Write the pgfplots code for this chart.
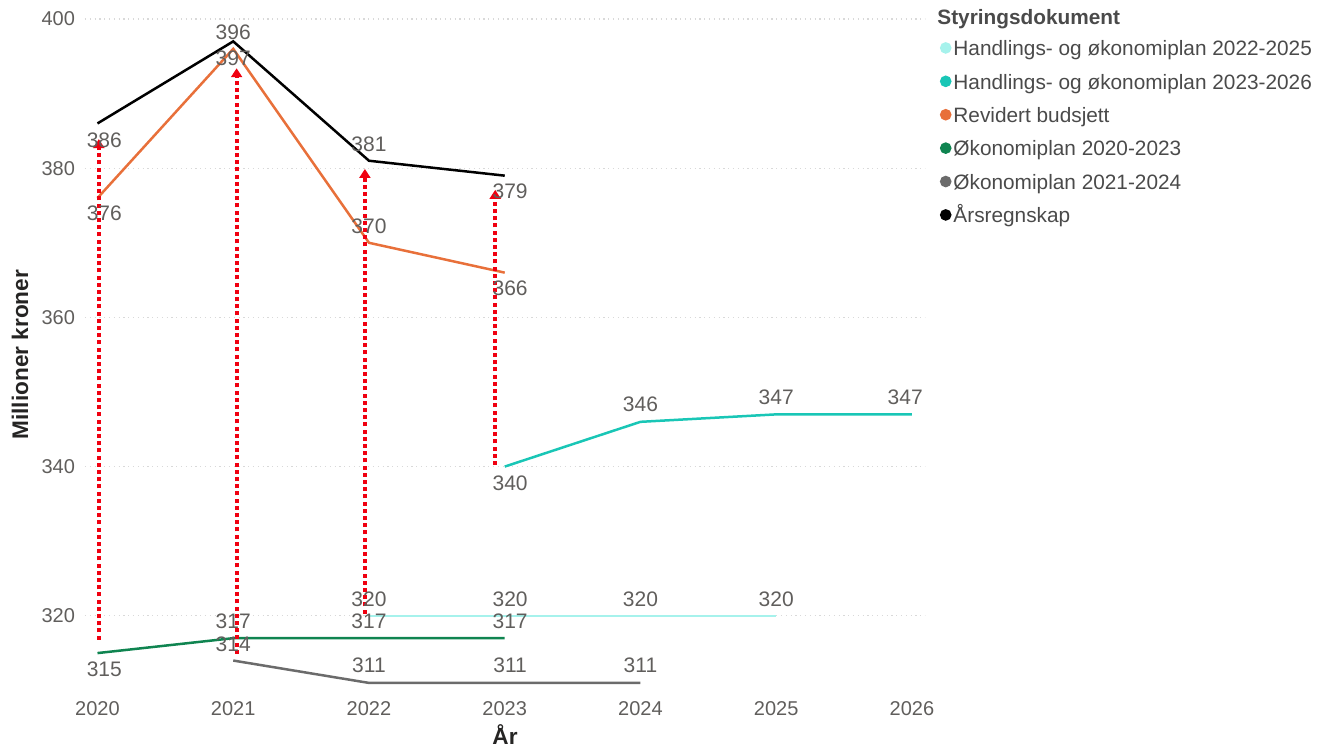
\documentclass[border=0pt]{standalone}
\usepackage{pgfplots}
\pgfplotsset{compat=1.18}
\usepackage{fontspec}
\setmainfont{Liberation Sans}
\usetikzlibrary{arrows.meta}
\definecolor{lblgray}{HTML}{605E5C}
\definecolor{leggray}{HTML}{4A4A4A}
\definecolor{titlegray}{HTML}{252423}
\definecolor{gridgray}{HTML}{D9D9D9}
\definecolor{hcyan}{HTML}{A6F2EC}
\definecolor{hteal}{HTML}{19C6B6}
\definecolor{rorange}{HTML}{E8703A}
\definecolor{ogreen}{HTML}{0F8450}
\definecolor{ogray}{HTML}{6B6B6B}
\definecolor{arrred}{HTML}{F00010}
\begin{document}
\begin{tikzpicture}
\useasboundingbox (0,0) rectangle (665pt,373.5pt);
\begin{axis}[
  at={(42.5pt,28.3pt)}, anchor=south west,
  scale only axis, width=420pt, height=335.7pt,
  xmin=2019.908, xmax=2026.096, ymin=310, ymax=400,
  clip=false,
  xtick={2020,2021,2022,2023,2024,2025,2026},
  ytick={320,340,360,380,400},
  axis line style={draw=none},
  major tick length=0pt,
  ymajorgrids,
  grid style={gridgray, line width=0.6pt, dash pattern=on 0.6pt off 1.8pt},
  /pgf/number format/1000 sep={},
  /pgf/number format/assume math mode=true,
  tick label style={font=\fontsize{10}{12}\selectfont, text=lblgray},
  xticklabel style={yshift=-2pt},
  yticklabel style={xshift=-1.5pt},
  xlabel={\textbf{År}},
  ylabel={\textbf{Millioner kroner}},
  xlabel style={at={(axis description cs:0.5,-0.0656)}, anchor=center, font=\fontsize{11.3}{13}\selectfont, text=titlegray},
  ylabel style={at={(axis description cs:-0.0774,0.5)}, anchor=center, rotate=0, font=\fontsize{11.3}{13}\selectfont, text=titlegray},
  legend style={at={(axis description cs:1.0102,0.9742)}, anchor=north west, draw=none, fill=none,
    font=\fontsize{10.4}{12}\selectfont, text=leggray, row sep=6.7pt, column sep=1pt,
    nodes={inner sep=0pt, text height=7.5pt, text depth=2.5pt}},
  legend cell align=left,
  legend image code/.code={\fill (2.25pt,1.4pt) circle (2.25pt);},
  every axis plot/.append style={line width=1.25pt},
]
\addplot[color=hcyan, mark=none] coordinates {(2022,320) (2023,320) (2024,320) (2025,320)};
\addlegendentry{Handlings- og økonomiplan 2022-2025}
\addplot[color=hteal, mark=none] coordinates {(2023,340) (2024,346) (2025,347) (2026,347)};
\addlegendentry{Handlings- og økonomiplan 2023-2026}
\addplot[color=rorange, mark=none] coordinates {(2020,376) (2021,396) (2022,370) (2023,366)};
\addlegendentry{Revidert budsjett}
\addplot[color=ogreen, mark=none] coordinates {(2020,315) (2021,317) (2022,317) (2023,317)};
\addlegendentry{Økonomiplan 2020-2023}
\addplot[color=ogray, mark=none] coordinates {(2021,314) (2022,311) (2023,311) (2024,311)};
\addlegendentry{Økonomiplan 2021-2024}
\addplot[color=black, mark=none] coordinates {(2020,386) (2021,397) (2022,381) (2023,379)};
\addlegendentry{Årsregnskap}
% red dotted arrows
\addplot[forget plot, color=arrred, line width=1.9pt, dash pattern=on 2pt off 1.6pt, -{Triangle[width=5.5pt,length=4.5pt]}] coordinates {(2020.01,316.8) (2020.01,383.9)};
\addplot[forget plot, color=arrred, line width=1.9pt, dash pattern=on 2pt off 1.6pt, -{Triangle[width=5.5pt,length=4.5pt]}] coordinates {(2021.025,314.9) (2021.025,393.4)};
\addplot[forget plot, color=arrred, line width=1.9pt, dash pattern=on 2pt off 1.6pt, -{Triangle[width=5.5pt,length=4.5pt]}] coordinates {(2021.97,320.3) (2021.97,379.9)};
\addplot[forget plot, color=arrred, line width=1.9pt, dash pattern=on 2pt off 1.6pt, -{Triangle[width=5.5pt,length=4.5pt]}] coordinates {(2022.93,340.2) (2022.93,377.1)};
% data labels
\addplot[forget plot, draw=none, mark=none, nodes near coords, point meta=explicit symbolic,
  nodes near coords style={anchor=center, inner sep=0pt, font=\fontsize{10.5}{12}\selectfont, text=lblgray}]
  table[meta=l] {
x y l
2020.05 383.8 386
2021 398.2 396
2021 394.8 397
2022 383.2 381
2023.04 376.9 379
2020.05 374.0 376
2022 372.2 370
2023.04 363.9 366
2023.04 337.8 340
2024 348.3 346
2025 349.3 347
2025.95 349.3 347
2022 322.2 320
2023.04 322.2 320
2024 322.2 320
2025 322.2 320
2021 319.3 317
2022 319.3 317
2023.04 319.3 317
2021 316.2 314
2020.05 312.8 315
2022 313.3 311
2023.04 313.3 311
2024 313.3 311
};
\end{axis}
\node[anchor=west, inner sep=0pt, font=\bfseries\fontsize{10.4}{12}\selectfont, text=leggray] at (468.5pt,364.1pt) {Styringsdokument};
\end{tikzpicture}
\end{document}
